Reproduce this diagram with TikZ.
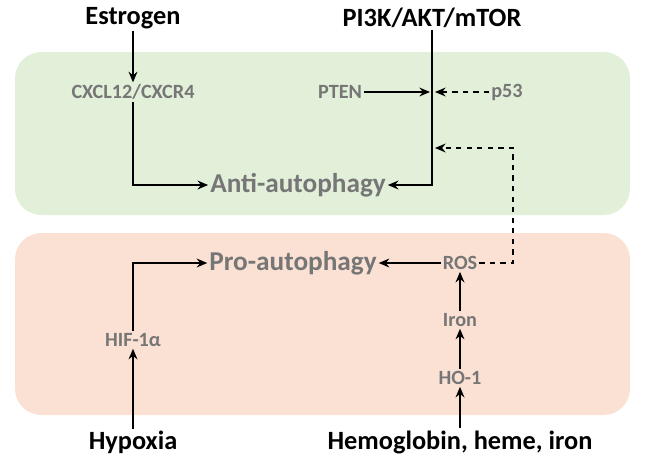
\documentclass[tikz,border=0pt]{standalone}
\usepackage{fontspec}
\setmainfont{Carlito}
\usetikzlibrary{arrows.meta}
\definecolor{zonegreen}{HTML}{E2EFD9}
\definecolor{zoneorange}{HTML}{FBE1D4}
\definecolor{labelgray}{HTML}{767676}
\tikzset{
	main/.style={font=\bfseries\fontsize{15}{17}\selectfont, text=black, inner sep=1pt},
	small/.style={font=\bfseries\fontsize{11.5}{13}\selectfont, text=labelgray, inner sep=1pt},
	big/.style={font=\bfseries\fontsize{15.5}{17}\selectfont, text=labelgray, inner sep=1pt},
	link/.style={line width=1.2pt, -{Stealth[length=6pt,width=5pt]}},
	dlink/.style={link, dashed}
}
\begin{document}
\begin{tikzpicture}[x=0.02cm, y=-0.02cm]

	\useasboundingbox (0,0) rectangle (646,467);

	% Zones
	\fill[zonegreen, rounded corners=15pt] (15,52) rectangle (630,215);
	\fill[zoneorange, rounded corners=15pt] (15,233) rectangle (630,415);

	% Labels
	\node[main] (Estrogen) at (133,18) {Estrogen};
	\node[main] (PI3K) at (432,18) {PI3K/AKT/mTOR};
	\node[small] (CXCL12) at (133,92) {CXCL12/CXCR4};
	\node[small] (PTEN) at (340,92) {PTEN};
	\node[small] (p53) at (507,92) {p53};
	\node[big] (Anti) at (298,185) {Anti-autophagy};
	\node[big] (Pro) at (293,263) {Pro-autophagy};
	\node[small] (ROS) at (460,263) {ROS};
	\node[small] (HIF) at (133,340) {HIF-1α};
	\node[small] (Iron) at (460,320) {Iron};
	\node[small] (HO1) at (460,378) {HO-1};
	\node[main] (Hypoxia) at (133,442) {Hypoxia};
	\node[main] (Hemo) at (460,442) {Hemoglobin, heme, iron};

	% Junction points
	\coordinate (Axis) at (432,185);
	\coordinate (PtenHit) at (430,92);
	\coordinate (P53Hit) at (435,92);
	\coordinate (RosHit) at (435,148);
	\coordinate (RosTurn) at (513,148);

	% Anti-autophagy arm
	\draw[link] (Estrogen) -- (CXCL12);
	\draw[link] (CXCL12.south) |- (Anti.west);
	\draw[link] (PI3K.south) -- (Axis) -- (Anti.east);
	\draw[link] (PTEN) -- (PtenHit);
	\draw[dlink] (p53) -- (P53Hit);
	\draw[dlink] (ROS.east) -| (RosTurn) -- (RosHit);

	% Pro-autophagy arm
	\draw[link] (ROS) -- (Pro);
	\draw[link] (Hypoxia) -- (HIF);
	\draw[link] (HIF.north) |- (Pro.west);
	\draw[link] (Hemo) -- (HO1);
	\draw[link] (HO1) -- (Iron);
	\draw[link] (Iron) -- (ROS);

\end{tikzpicture}
\end{document}
